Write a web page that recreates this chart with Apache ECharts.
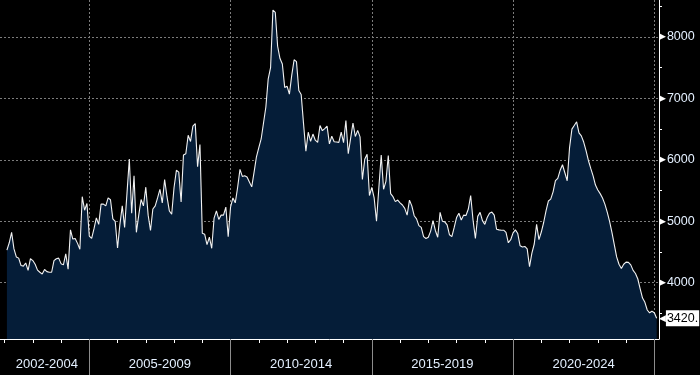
<!DOCTYPE html>
<html><head><meta charset="utf-8">
<script src="https://cdn.jsdelivr.net/npm/echarts@6/dist/echarts.min.js"></script>
<style>html,body{margin:0;padding:0;background:#000;}#c{width:700px;height:375px;}</style>
</head><body><div id="c"></div>
<script>
// monthly values (end of month), Feb 2002 .. Jan 2025
const v2002 = [4530,4650,4820,4550,4420,4400,4280,4270,4320,4200,4390,4360];
const v2003 = [4300,4205,4170,4140,4215,4180,4170,4170,4360,4390,4400,4310];
const v2004 = [4290,4470,4220,4860,4710,4720,4640,4545,5400,5180,5290,4760];
const v2005 = [4720,4880,5055,4950,5280,5280,5250,5380,5350,5040,5000,4565];
const v2006 = [4950,5250,4900,5450,6015,5130,5740,4820,5100,5355,5250,5555];
const v2007 = [5100,4850,5200,5250,5380,5520,5300,5680,5400,5170,5115,5550];
const v2008 = [5830,5800,5315,6080,6100,6400,6300,6550,6590,5890,6250,4805];
const v2009 = [4790,4620,4740,4560,5050,5170,5030,5100,5100,5230,4750,5230];
const v2010 = [5380,5300,5550,5845,5730,5740,5720,5640,5560,5800,6050,6200];
const v2011 = [6340,6600,6860,7320,7500,8440,8400,7850,7650,7560,7180,7200];
const v2012 = [7070,7380,7630,7600,7130,7065,6590,6140,6450,6300,6420,6320];
const v2013 = [6285,6560,6475,6510,6550,6260,6385,6295,6290,6285,6450,6280];
const v2014 = [6640,6100,6350,6600,6380,6480,6375,5680,6010,6090,5420,5550];
const v2015 = [5380,5000,5550,6080,5520,5650,6070,5450,5400,5320,5345,5300];
const v2016 = [5265,5210,5100,5345,5250,5090,5040,4930,4900,4750,4720,4740];
const v2017 = [4840,5010,4850,4740,5145,5000,4990,4940,4780,4750,4900,5060];
const v2018 = [5130,5020,5100,5095,5200,5420,5020,4720,5080,5145,5010,4950];
const v2019 = [5060,5130,5150,5100,4870,4860,4855,4855,4820,4650,4700,4810];
const v2020 = [4860,4800,4600,4580,4590,4550,4260,4480,4630,4950,4700,4825];
const v2021 = [4980,5170,5330,5360,5480,5660,5700,5830,5920,5790,5660,6200];
const v2022 = [6500,6560,6620,6440,6390,6290,6150,5990,5860,5740,5590,5510];
const v2023 = [5450,5380,5280,5150,5000,4820,4620,4420,4300,4230,4300,4335];
const v2024 = [4330,4290,4200,4150,4060,3900,3750,3680,3555,3510,3535,3510];
const v2025 = [3420];

const periodLabels = ['2002-2004','2005-2009','2010-2014','2015-2019','2020-2024'];
const periodCenters = [2003.5, 2007.5, 2012.5, 2017.5, 2022.5];
const periodBounds = [2005, 2010, 2015, 2020, 2025];
const yearTicks = [2002,2003,2004,2006,2007,2008,2009,2011,2012,2013,2014,2016,2017,2018,2019,2021,2022,2023,2024];
const yLabelValues = [4000, 5000, 6000, 7000, 8000];
const yMinorTicks = [3500, 4500, 5500, 6500, 7500, 8500];
const lastLabelText = '3420.';

const X_MIN = 2001.839, X_MAX = 2025.166;
const Y_MIN = 3083, Y_MAX = 8603;

const values = [].concat(v2002,v2003,v2004,v2005,v2006,v2007,v2008,v2009,v2010,v2011,v2012,v2013,v2014,v2015,v2016,v2017,v2018,v2019,v2020,v2021,v2022,v2023,v2024,v2025);
const data = values.map((v, i) => [2002 + (i + 1) / 12, v]);
const lastValue = values[values.length - 1];

const labelColor = '#e4f0ff';
const gridColor = '#7c7c7c';

const chart = echarts.init(document.getElementById('c'), null, {renderer: 'canvas'});
chart.setOption({
  backgroundColor: '#000',
  animation: false,
  grid: {left: 0, right: 41, top: 0, bottom: 36, containLabel: false},
  xAxis: [
    {type: 'value', min: X_MIN, max: X_MAX, position: 'bottom',
     axisLine: {show: true, onZero: false, lineStyle: {color: '#fff', width: 1}},
     axisTick: {show: true, customValues: yearTicks, length: 4, lineStyle: {color: '#fff'}},
     axisLabel: {show: false}, splitLine: {show: false}},
    {type: 'value', min: X_MIN, max: X_MAX, position: 'bottom',
     axisLine: {show: false, onZero: false},
     axisTick: {show: true, customValues: periodBounds, length: 36, lineStyle: {color: '#8c8c8c'}},
     axisLabel: {show: false},
     splitLine: {show: true, lineStyle: {color: gridColor, type: [2, 2], width: 1}}},
    {type: 'value', min: X_MIN, max: X_MAX, position: 'bottom',
     axisLine: {show: false, onZero: false}, axisTick: {show: false},
     axisLabel: {show: true, customValues: periodCenters, margin: 19, color: labelColor, fontSize: 13,
       fontFamily: 'Liberation Sans, Arial, sans-serif',
       formatter: v => periodLabels[periodCenters.indexOf(v)]},
     splitLine: {show: false}}
  ],
  yAxis: [
    {type: 'value', position: 'right', min: Y_MIN, max: Y_MAX,
     axisLine: {show: true, lineStyle: {color: '#fff', width: 1}},
     axisTick: {show: true, customValues: yMinorTicks, length: 3, lineStyle: {color: '#fff'}},
     axisLabel: {show: true, customValues: yLabelValues, margin: 0,
       formatter: v => '{t|\u25B6}{n|' + v + '}',
       rich: {t: {color: '#fff', fontSize: 9, padding: [0, 1, 0, 0], fontFamily: 'DejaVu Sans'},
              n: {color: labelColor, fontSize: 12.5, fontFamily: 'Liberation Sans, Arial, sans-serif'}}},
     splitLine: {show: false}},
    {type: 'value', position: 'right', min: Y_MIN, max: Y_MAX,
     axisLine: {show: false}, axisTick: {show: false, customValues: yLabelValues},
     axisLabel: {show: false},
     splitLine: {show: true, lineStyle: {color: gridColor, type: [2, 2], width: 1}}}
  ],
  series: [{
    type: 'line', xAxisIndex: 0, yAxisIndex: 0, data: data,
    showSymbol: false, symbol: 'none', smooth: false, clip: false,
    lineStyle: {color: '#f2f2f2', width: 1.1},
    areaStyle: {color: '#051d38', opacity: 1, origin: 'start'},
    markLine: {
      silent: true, symbol: ['none', 'none'], animation: false,
      lineStyle: {color: 'rgba(0,0,0,0)', width: 1, type: 'solid'},
      label: {show: true, position: 'end', distance: 0,
        formatter: () => '{a|\u25C0}{b|' + lastLabelText + '}',
        rich: {a: {color: '#fff', fontSize: 9, fontFamily: 'DejaVu Sans'},
               b: {color: '#000', backgroundColor: '#fff', fontSize: 12.5, padding: [2, 1, 1, 1],
                   fontFamily: 'Liberation Sans, Arial, sans-serif'}}},
      data: [{yAxis: lastValue}]
    }
  }]
});
</script></body></html>
